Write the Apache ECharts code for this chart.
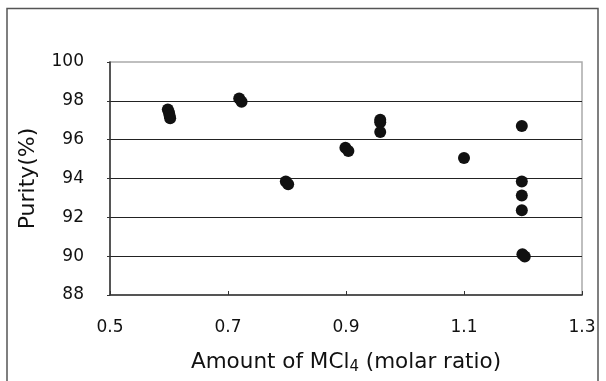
<!DOCTYPE html>
<html>
<head>
<meta charset="utf-8">
<script src="https://cdn.jsdelivr.net/npm/echarts@6/dist/echarts.min.js"></script>
<style>
  html, body { margin: 0; padding: 0; background: #fff; }
  #main { width: 606px; height: 381px; }
</style>
</head>
<body>
<div id="main"></div>
<script>
// molar ratio of MCl4 and purity (%)
var ratio = [0.598, 0.600, 0.601, 0.602, 0.719, 0.723, 0.798, 0.802, 0.899, 0.904,
             0.958, 0.958, 0.958, 1.100, 1.198, 1.198, 1.198, 1.198, 1.199, 1.203];
var purity = [97.55, 97.40, 97.25, 97.10, 98.12, 97.95, 93.85, 93.70, 95.58, 95.42,
              97.02, 96.90, 96.40, 95.05, 96.70, 93.85, 93.12, 92.37, 90.10, 89.98];
var xTicks = [0.5, 0.7, 0.9, 1.1, 1.3];
var yTicks = [88, 90, 92, 94, 96, 98, 100];

var points = [];
for (var i = 0; i < ratio.length; i++) {
    points.push([ratio[i], purity[i]]);
}

var chartDom = document.getElementById('main');
var myChart = echarts.init(chartDom);
var font = "'DejaVu Sans', sans-serif";

var option = {
    backgroundColor: '#fff',
    animation: false,
    graphic: [{
        type: 'rect',
        shape: { x: 7, y: 8.5, width: 591, height: 380 },
        style: { fill: 'none', stroke: '#555', lineWidth: 1.5 }
    }],
    grid: {
        left: 110, right: 24, top: 62, bottom: 86,
        show: true, borderColor: '#aaa', borderWidth: 1.5
    },
    xAxis: {
        type: 'value',
        min: xTicks[0],
        max: xTicks[xTicks.length - 1],
        interval: 0.2,
        name: '{a|Amount of MCl}{s|4}{a| (molar ratio)}',
        nameLocation: 'middle',
        nameGap: 54,
        nameTextStyle: {
            rich: {
                a: { fontSize: 21.5, color: '#111', fontFamily: font },
                s: { fontSize: 15, color: '#111', fontFamily: font, padding: [11, 0, 0, 0] }
            }
        },
        axisLine: { lineStyle: { color: '#333', width: 1.5 } },
        axisTick: { inside: true, length: 4, lineStyle: { color: '#333' } },
        axisLabel: {
            margin: 24, fontSize: 17, color: '#111', fontFamily: font,
            formatter: function (v) { return v.toFixed(1); }
        },
        splitLine: { show: false }
    },
    yAxis: {
        type: 'value',
        min: yTicks[0],
        max: yTicks[yTicks.length - 1],
        interval: 2,
        name: 'Purity(%)',
        nameLocation: 'middle',
        nameGap: 71,
        nameTextStyle: { fontSize: 22, color: '#111', fontFamily: font },
        axisLine: { show: true, lineStyle: { color: '#333', width: 1.5 } },
        axisTick: { show: true, length: 3, lineStyle: { color: '#333' } },
        axisLabel: { margin: 26, fontSize: 17, color: '#111', fontFamily: font },
        splitLine: {
            show: true, showMinLine: false, showMaxLine: false,
            lineStyle: { color: '#222', width: 1.2 }
        }
    },
    series: [{
        type: 'scatter',
        data: points,
        symbol: 'circle',
        symbolSize: 12,
        itemStyle: { color: '#111', opacity: 1 }
    }]
};

option && myChart.setOption(option);
</script>
</body>
</html>
